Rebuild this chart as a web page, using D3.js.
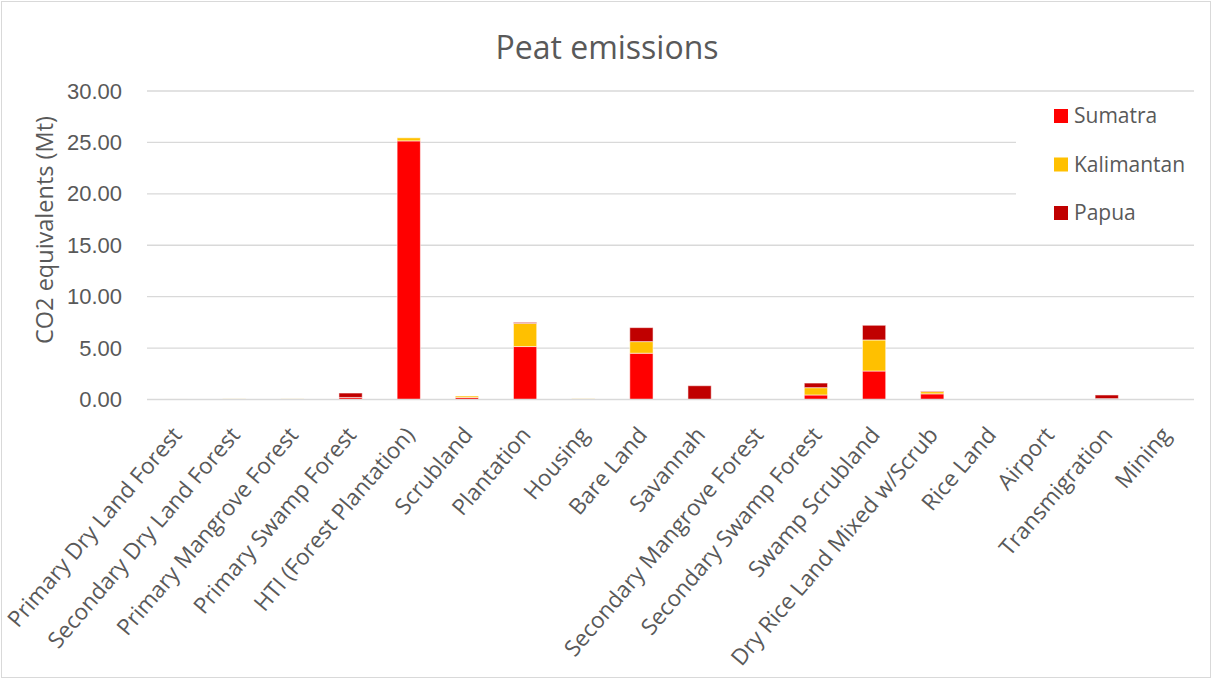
<!DOCTYPE html>
<html>
<head>
<meta charset="utf-8">
<script src="https://cdn.jsdelivr.net/npm/d3@7"></script>
<style>
  html, body { margin: 0; padding: 0; background: #fff; }
  svg { display: block; font-family: "Segoe UI", "Open Sans", "Noto Sans", sans-serif; }
</style>
</head>
<body>
<svg id="chart" width="1212" height="679"></svg>
<script>
// Land-cover classes on peat
const categories = [
  "Primary Dry Land Forest", "Secondary Dry Land Forest", "Primary Mangrove Forest",
  "Primary Swamp Forest", "HTI (Forest Plantation)", "Scrubland", "Plantation",
  "Housing", "Bare Land", "Savannah", "Secondary Mangrove Forest",
  "Secondary Swamp Forest", "Swamp Scrubland", "Dry Rice Land Mixed w/Scrub",
  "Rice Land", "Airport", "Transmigration", "Mining"
];

// Emissions per region, Mt CO2 equivalents
const sumatra    = [0.04, 0.04, 0.04, 0.20, 25.15, 0.20, 5.15, 0.05, 4.50, 0.00, 0.03, 0.44, 2.77, 0.55, 0.00, 0.00, 0.08, 0.03];
const kalimantan = [0.01, 0.02, 0.02, 0.00, 0.30, 0.14, 2.25, 0.02, 1.13, 0.00, 0.02, 0.71, 3.02, 0.22, 0.00, 0.03, 0.00, 0.02];
const papua      = [0.00, 0.00, 0.00, 0.43, 0.00, 0.00, 0.10, 0.00, 1.36, 1.34, 0.00, 0.45, 1.43, 0.05, 0.00, 0.00, 0.36, 0.00];

const seriesNames  = ["Sumatra", "Kalimantan", "Papua"];
const seriesColors = ["#ff0000", "#ffc000", "#c00000"];
const yTicks = [0, 5, 10, 15, 20, 25, 30];

const svg = d3.select("#chart");
const W = 1212, H = 679;
const plot = { left: 147, right: 1194, top: 91, bottom: 399.5 };
const textColor = "#595959";

// chart area border
svg.append("rect")
  .attr("x", 1.5).attr("y", 1.5).attr("width", W - 3).attr("height", H - 3)
  .attr("fill", "#fff").attr("stroke", "#d9d9d9").attr("stroke-width", 1);

const x = d3.scaleBand().domain(categories).range([plot.left, plot.right]).paddingInner(0.6).paddingOuter(0.3);
const y = d3.scaleLinear().domain([0, 30]).range([plot.bottom, plot.top]);

// gridlines
svg.append("g")
  .selectAll("line").data(yTicks.filter(d => d > 0)).join("line")
  .attr("x1", plot.left).attr("x2", plot.right)
  .attr("y1", d => y(d)).attr("y2", d => y(d))
  .attr("stroke", "#d9d9d9").attr("stroke-width", 1.3);

// y axis tick labels
const yAxis = d3.axisLeft(y).tickValues(yTicks).tickFormat(d3.format(".2f")).tickSize(0).tickPadding(25);
const gy = svg.append("g").attr("transform", `translate(${plot.left},0)`).call(yAxis);
gy.select(".domain").remove();
gy.selectAll("text").attr("fill", textColor).style("font-size", "22px");

// stacked bars
const rows = categories.map((c, i) => ({ cat: c, Sumatra: sumatra[i], Kalimantan: kalimantan[i], Papua: papua[i] }));
const stacked = d3.stack().keys(seriesNames)(rows);

svg.append("g")
  .selectAll("g").data(stacked).join("g")
  .attr("fill", (d, i) => seriesColors[i])
  .selectAll("rect").data(d => d).join("rect")
  .attr("x", d => x(d.data.cat))
  .attr("width", x.bandwidth())
  .attr("y", d => y(d[1]))
  .attr("height", d => Math.max(0, y(d[0]) - y(d[1])))
  .attr("stroke", "rgba(255,255,255,0.55)")
  .attr("stroke-width", d => (d[1] - d[0]) > 0 ? 1 : 0);

// category axis line
svg.append("line")
  .attr("x1", plot.left).attr("x2", plot.right)
  .attr("y1", plot.bottom).attr("y2", plot.bottom)
  .attr("stroke", "#d9d9d9").attr("stroke-width", 1.3);

// category labels, rotated
svg.append("g")
  .selectAll("text").data(categories).join("text")
  .attr("transform", d => `translate(${x(d) + x.bandwidth() / 2 + 1},${plot.bottom + 31}) rotate(-49.5)`)
  .attr("text-anchor", "end")
  .attr("dy", "0.35em")
  .attr("fill", textColor)
  .style("font-size", "22.5px")
  .text(d => d);

// y axis title
svg.append("text")
  .attr("transform", `translate(53,230) rotate(-90)`)
  .attr("text-anchor", "middle")
  .attr("fill", textColor)
  .style("font-size", "23.5px")
  .text("CO2 equivalents (Mt)");

// title
svg.append("text")
  .attr("x", 607).attr("y", 59)
  .attr("text-anchor", "middle")
  .attr("fill", textColor)
  .style("font-size", "32px")
  .text("Peat emissions");

// legend
const legend = svg.append("g").attr("transform", "translate(1016,92)");
legend.append("rect").attr("width", 186).attr("height", 146).attr("fill", "#fff");
const items = legend.selectAll("g").data(seriesNames).join("g")
  .attr("transform", (d, i) => `translate(38,${24 + i * 48.5})`);
items.append("rect").attr("x", 0).attr("y", -7).attr("width", 14).attr("height", 14)
  .attr("fill", (d, i) => seriesColors[i]);
items.append("text").attr("x", 20).attr("dy", "0.35em")
  .attr("fill", textColor).style("font-size", "21px").text(d => d);
</script>
</body>
</html>
